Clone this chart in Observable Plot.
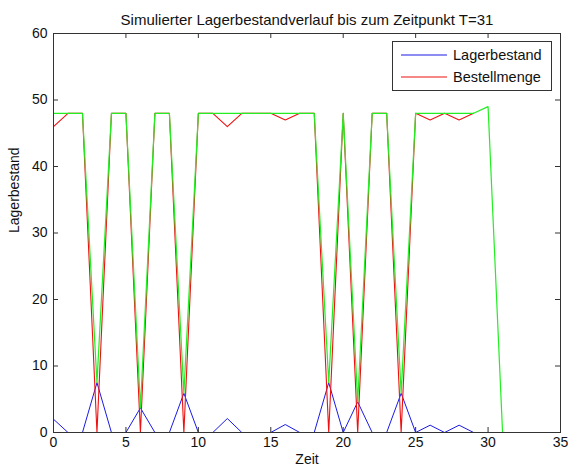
<!DOCTYPE html>
<html>
<head>
<meta charset="utf-8">
<script src="https://cdn.jsdelivr.net/npm/d3@7"></script>
<script src="https://cdn.jsdelivr.net/npm/@observablehq/plot@0.6"></script>
<style>
  html, body { margin: 0; padding: 0; background: #fff; }
  #wrap { position: relative; width: 568px; height: 470px; font-family: "Liberation Sans", Arial, sans-serif; }
  #legend { position: absolute; left: 392px; top: 41px; width: 158px; height: 48px; border: 1px solid #333; background: #fff; font-size: 14.5px; color: #111; }
  .row { position: absolute; left: 0; height: 20px; width: 100%; }
  .sw { position: absolute; left: 8px; top: 8px; }
  .lbl { position: absolute; left: 60px; white-space: nowrap; line-height: 20px; }
</style>
</head>
<body>
<div id="wrap"></div>
<script>
// ---- data ----
const zeit = [0,1,2,3,4,5,6,7,8,9,10,11,12,13,14,15,16,17,18,19,20,21,22,23,24,25,26,27,28,29];
const lagerbestand = [2,0,0,7.5,0,0,3.7,0,0,5.9,0,0,2.1,0,0,0,1.2,0,0,7.5,0,4.6,0,0,5.9,0,1.1,0,1.1,0];
const bestellmenge = [46,48,48,0,48,48,0,48,48,0,48,48,46,48,48,48,47,48,48,0,48,0,48,48,0,48,47,48,47,48];
const zeitGesamt = [0,1,2,3,4,5,6,7,8,9,10,11,12,13,14,15,16,17,18,19,20,21,22,23,24,25,26,27,28,29,30,31];
const gesamt = [48,48,48,7.5,48,48,3.7,48,48,5.9,48,48,48,48,48,48,48,48,48,7.5,48,4.6,48,48,5.9,48,48,48,48,48,49,0];
const xTicks = [0,5,10,15,20,25,30,35];
const yTicks = [0,10,20,30,40,50,60];
const seriesNames = ["Lagerbestand", "Bestellmenge"];
const seriesColors = ["#1a1ae6", "#ee1111"];
const gesamtColor = "#22ee22";
const title = "Simulierter Lagerbestandverlauf bis zum Zeitpunkt T=31";
const xLabel = "Zeit";
const yLabel = "Lagerbestand";

const W = 568, H = 470, mL = 53, mR = 8, mT = 33, mB = 38;
const fw = W - mL - mR, fh = H - mT - mB;
const font = "Liberation Sans, Arial, sans-serif";
const axisCol = "#333";

const blue = zeit.map((t, i) => ({t, v: lagerbestand[i]}));
const red = zeit.map((t, i) => ({t, v: bestellmenge[i]}));
const green = zeitGesamt.map((t, i) => ({t, v: gesamt[i]}));

const chart = Plot.plot({
  width: W, height: H,
  marginLeft: mL, marginRight: mR, marginTop: mT, marginBottom: mB,
  style: {fontFamily: font, fontSize: "14px", color: "#111", background: "#fff"},
  x: {domain: [0, 35]},
  y: {domain: [0, 60]},
  marks: [
    Plot.line(blue, {x: "t", y: "v", stroke: seriesColors[0], strokeWidth: 1}),
    Plot.line(red, {x: "t", y: "v", stroke: seriesColors[1], strokeWidth: 1.1}),
    Plot.line(green, {x: "t", y: "v", stroke: gesamtColor, strokeWidth: 1.2}),
    Plot.frame({stroke: axisCol}),
    Plot.tickX(xTicks, {x: d => d, insetTop: fh - 5, stroke: axisCol}),
    Plot.tickX(xTicks, {x: d => d, insetBottom: fh - 5, stroke: axisCol}),
    Plot.tickY(yTicks, {y: d => d, insetRight: fw - 5, stroke: axisCol}),
    Plot.tickY(yTicks, {y: d => d, insetLeft: fw - 5, stroke: axisCol}),
    Plot.axisX(xTicks, {tickSize: 0, tickPadding: 5, label: null, fontSize: 14, fill: "#111"}),
    Plot.axisY(yTicks, {tickSize: 0, tickPadding: 6, label: null, fontSize: 14, fill: "#111"}),
    Plot.text([title], {frameAnchor: "top", dy: -19, fontSize: 15, fill: "#111"}),
    Plot.text([xLabel], {frameAnchor: "bottom", dy: 31, fontSize: 14, fill: "#111"}),
    Plot.text([yLabel], {frameAnchor: "left", dx: -39, rotate: -90, fontSize: 14, fill: "#111"})
  ]
});

const wrap = document.getElementById("wrap");
wrap.appendChild(chart);

const NS = "http://www.w3.org/2000/svg";
const legend = document.createElement("div");
legend.id = "legend";
seriesNames.forEach((name, i) => {
  const row = document.createElement("div");
  row.className = "row";
  row.style.top = (3 + i * 22) + "px";
  const sw = document.createElementNS(NS, "svg");
  sw.setAttribute("class", "sw");
  sw.setAttribute("width", "46");
  sw.setAttribute("height", "4");
  const ln = document.createElementNS(NS, "line");
  ln.setAttribute("x1", "0"); ln.setAttribute("x2", "46");
  ln.setAttribute("y1", "2"); ln.setAttribute("y2", "2");
  ln.setAttribute("stroke", seriesColors[i]);
  ln.setAttribute("stroke-width", "1.2");
  sw.appendChild(ln);
  const lbl = document.createElement("div");
  lbl.className = "lbl";
  lbl.textContent = name;
  row.appendChild(sw);
  row.appendChild(lbl);
  legend.appendChild(row);
});
wrap.appendChild(legend);
</script>
</body>
</html>
